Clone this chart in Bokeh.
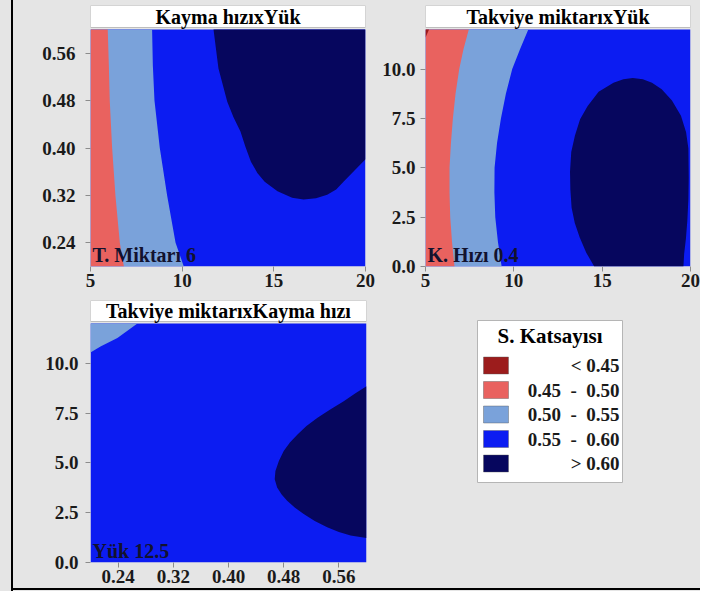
from bokeh.plotting import figure
from bokeh.layouts import row, column
from bokeh.models import Range1d, FixedTicker, PrintfTickFormatter, InlineStyleSheet
from bokeh.core.properties import value
from bokeh.embed import file_html
from bokeh.resources import INLINE

# ---------------- data ----------------
level_labels = ["<\u00a00.45", "0.45\u00a0\u00a0-\u00a0\u00a00.50", "0.50\u00a0\u00a0-\u00a0\u00a00.55",
                "0.55\u00a0\u00a0-\u00a0\u00a00.60", ">\u00a00.60"]
level_colors = ["#9c1c1c", "#e9625f", "#7aa2da", "#0c1cf2", "#06065e"]
legend_title = "S. Katsayısı"

# Panel 1: Kayma hızı (y) x Yük (x), hold T. Miktarı = 6
p1_title = "Kayma hızıxYük"
p1_hold = "T. Miktarı 6"
p1_xr = (5, 20)
p1_yr = (0.2, 0.6)
p1_xticks = [5, 10, 15, 20]
p1_yticks = [0.24, 0.32, 0.40, 0.48, 0.56]
p1_c050_x = [5.94, 6.00, 6.05, 6.18, 6.36, 6.60, 6.82]
p1_c050_y = [0.60, 0.54, 0.48, 0.40, 0.32, 0.24, 0.20]
p1_c055_x = [8.36, 8.40, 8.49, 8.78, 9.18, 9.64, 10.09]
p1_c055_y = [0.60, 0.54, 0.48, 0.40, 0.32, 0.24, 0.20]
p1_c060_x = [11.71, 11.98, 12.46, 12.80, 13.18, 13.45, 13.75, 14.10, 14.50, 15.20, 16.00, 16.62,
             17.30, 17.91, 18.40, 18.80, 19.40, 20.00]
p1_c060_y = [0.600, 0.534, 0.478, 0.452, 0.428, 0.402, 0.377, 0.358, 0.343, 0.327, 0.316, 0.313,
             0.315, 0.321, 0.330, 0.343, 0.362, 0.381]

# Panel 2: Takviye miktarı (y) x Yük (x), hold K. Hızı = 0.4
p2_title = "Takviye miktarıxYük"
p2_hold = "K. Hızı 0.4"
p2_xr = (5, 20)
p2_yr = (0, 12)
p2_xticks = [5, 10, 15, 20]
p2_yticks = [0.0, 2.5, 5.0, 7.5, 10.0]
p2_c045_x = [5.20, 5.00]
p2_c045_y = [12.0, 11.6]
p2_c050_x = [7.45, 7.15, 6.91, 6.70, 6.55, 6.44, 6.36, 6.36, 6.40, 6.50, 6.64]
p2_c050_y = [12.0, 11.0, 10.0, 8.75, 7.5, 6.25, 5.0, 3.75, 2.5, 1.25, 0.0]
p2_c055_x = [10.82, 10.35, 9.91, 9.55, 9.27, 9.05, 8.91, 8.90, 8.95, 9.10, 9.31]
p2_c055_y = [12.0, 11.0, 10.0, 8.75, 7.5, 6.25, 5.0, 3.75, 2.5, 1.25, 0.0]
p2_c060_x = [14.55, 14.10, 13.73, 13.45, 13.27, 13.20, 13.18, 13.25, 13.46, 13.75, 14.18, 14.80,
             15.64, 16.20, 16.73, 17.30, 17.82, 18.37, 18.95, 19.46, 19.75, 19.88, 19.90, 19.88,
             19.82, 19.74, 19.64, 19.60]
p2_c060_y = [0.00, 0.70, 1.47, 2.20, 2.97, 3.90, 4.80, 5.80, 6.63, 7.45, 8.13, 8.85,
             9.30, 9.48, 9.55, 9.48, 9.30, 8.97, 8.40, 7.63, 6.80, 5.97, 4.50, 3.40,
             2.30, 1.40, 0.63, 0.00]

# Panel 3: Takviye miktarı (y) x Kayma hızı (x), hold Yük = 12.5
p3_title = "Takviye miktarıxKayma hızı"
p3_hold = "Yük 12.5"
p3_xr = (0.2, 0.6)
p3_yr = (0, 12)
p3_xticks = [0.24, 0.32, 0.40, 0.48, 0.56]
p3_yticks = [0.0, 2.5, 5.0, 7.5, 10.0]
p3_c055_x = [0.200, 0.2145, 0.239, 0.268]
p3_c055_y = [10.55, 10.85, 11.27, 12.0]
p3_c060_x = [0.600, 0.584, 0.567, 0.548, 0.529, 0.513, 0.500, 0.489, 0.480, 0.473, 0.468, 0.467,
             0.4705, 0.477, 0.485, 0.496, 0.509, 0.525, 0.543, 0.560, 0.577, 0.600]
p3_c060_y = [8.85, 8.50, 8.10, 7.70, 7.27, 6.85, 6.43, 6.02, 5.60, 5.10, 4.60, 4.18,
             3.77, 3.42, 3.10, 2.76, 2.43, 2.08, 1.77, 1.53, 1.35, 1.23]

# ---------------- style ----------------
BG = "#e5e5e5"
SERIF = "Liberation Serif"
TICK_COLOR = "#8c8c8c"
TXT = "#1a1a1a"


def build_panel(width, height, left, right, top, bottom, xr, yr, title_px, gap_px):
    frame_h = height - bottom - top
    plot_h = frame_h - title_px
    span = yr[1] - yr[0]
    ytop = yr[1] + span * title_px / plot_h
    p = figure(width=width, height=height, x_range=Range1d(*xr), y_range=Range1d(yr[0], ytop),
               min_border_left=left, min_border_right=right, min_border_top=top, min_border_bottom=bottom,
               output_backend="svg", toolbar_location=None,
               background_fill_color=BG, border_fill_color=BG, outline_line_color=None)
    box_bottom = yr[1] + span * gap_px / plot_h
    return p, box_bottom, ytop


def style_axes(p, xticks, yticks, xfmt, yfmt, ystand):
    p.xaxis.ticker = FixedTicker(ticks=xticks)
    p.yaxis.ticker = FixedTicker(ticks=yticks)
    p.xaxis.formatter = PrintfTickFormatter(format=xfmt)
    p.yaxis.formatter = PrintfTickFormatter(format=yfmt)
    for ax in (p.xaxis, p.yaxis):
        ax.axis_line_color = None
        ax.major_tick_line_color = TICK_COLOR
        ax.major_tick_out = 5
        ax.major_tick_in = 0
        ax.minor_tick_line_color = None
        ax.major_label_text_font = SERIF
        ax.major_label_text_font_style = "bold"
        ax.major_label_text_font_size = "19px"
        ax.major_label_text_color = TXT
    p.xaxis.major_label_standoff = 2
    p.yaxis.major_label_standoff = ystand
    p.xgrid.visible = False
    p.ygrid.visible = False


def add_title(p, xr, box_bottom, ytop, title):
    p.quad(left=[xr[0]], right=[xr[1]], bottom=[box_bottom], top=[ytop],
           fill_color="white", line_color="#bdbdbd", line_width=1)
    p.text(x=[(xr[0] + xr[1]) / 2], y=[(box_bottom + ytop) / 2], text=[title],
           text_align="center", text_baseline="middle", text_font=value(SERIF),
           text_font_style="bold", text_font_size="20px", text_color="black")


def add_hold(p, xr, yr, label):
    p.text(x=[xr[0]], y=[yr[0]], text=[label], x_offset=2, y_offset=-1,
           text_align="left", text_baseline="bottom", text_font=value(SERIF),
           text_font_style="bold", text_font_size="20px", text_color="#12122e")


def full_rect(p, xr, yr, color):
    p.patch([xr[0], xr[1], xr[1], xr[0]], [yr[0], yr[0], yr[1], yr[1]],
            fill_color=color, line_color=None)


# ---------------- panel 1 ----------------
p1, p1_bb, p1_top = build_panel(376, 298, 90, 11, 5, 32, p1_xr, p1_yr, 24, 2)
full_rect(p1, p1_xr, p1_yr, level_colors[3])
p1.patch([p1_xr[0]] + p1_c055_x + [p1_xr[0]], [p1_yr[1]] + p1_c055_y + [p1_yr[0]],
         fill_color=level_colors[2], line_color=None)
p1.patch([p1_xr[0]] + p1_c050_x + [p1_xr[0]], [p1_yr[1]] + p1_c050_y + [p1_yr[0]],
         fill_color=level_colors[1], line_color=None)
p1.patch(p1_c060_x + [p1_xr[1]], p1_c060_y + [p1_yr[1]],
         fill_color=level_colors[4], line_color=None)
add_title(p1, p1_xr, p1_bb, p1_top, p1_title)
add_hold(p1, p1_xr, p1_yr, p1_hold)
style_axes(p1, p1_xticks, p1_yticks, "%d", "%.2f", 10)

# ---------------- panel 2 ----------------
p2, p2_bb, p2_top = build_panel(324, 298, 49, 10, 5, 32, p2_xr, p2_yr, 24, 2)
full_rect(p2, p2_xr, p2_yr, level_colors[3])
p2.patch([p2_xr[0]] + p2_c055_x + [p2_xr[0]], [p2_yr[1]] + p2_c055_y + [p2_yr[0]],
         fill_color=level_colors[2], line_color=None)
p2.patch([p2_xr[0]] + p2_c050_x + [p2_xr[0]], [p2_yr[1]] + p2_c050_y + [p2_yr[0]],
         fill_color=level_colors[1], line_color=None)
p2.patch([p2_xr[0]] + p2_c045_x, [p2_yr[1]] + p2_c045_y,
         fill_color=level_colors[0], line_color=None)
p2.patch(p2_c060_x, p2_c060_y, fill_color=level_colors[4], line_color=None)
add_title(p2, p2_xr, p2_bb, p2_top, p2_title)
add_hold(p2, p2_xr, p2_yr, p2_hold)
style_axes(p2, p2_xticks, p2_yticks, "%d", "%.1f", 5)

# ---------------- panel 3 ----------------
p3, p3_bb, p3_top = build_panel(376, 293, 90, 10, 2, 29, p3_xr, p3_yr, 23, 2)
full_rect(p3, p3_xr, p3_yr, level_colors[3])
p3.patch([p3_xr[0]] + p3_c055_x, [p3_yr[1]] + p3_c055_y,
         fill_color=level_colors[2], line_color=None)
p3.patch(p3_c060_x, p3_c060_y, fill_color=level_colors[4], line_color=None)
add_title(p3, p3_xr, p3_bb, p3_top, p3_title)
add_hold(p3, p3_xr, p3_yr, p3_hold)
style_axes(p3, p3_xticks, p3_yticks, "%.2f", "%.1f", 7)

# ---------------- legend panel (pixel-like ranges) ----------------
p4 = figure(width=324, height=293, x_range=Range1d(376, 700), y_range=Range1d(562, 300),
            min_border_left=0, min_border_right=0, min_border_top=2, min_border_bottom=29,
            x_axis_location=None, y_axis_location=None,
            output_backend="svg", toolbar_location=None,
            background_fill_color=BG, border_fill_color=BG, outline_line_color=None)
p4.xgrid.visible = False
p4.ygrid.visible = False
LEG_L, LEG_R, LEG_T, LEG_B = 477, 622, 320, 482
ROW0, ROW_STEP = 365, 24.5
p4.quad(left=[LEG_L], right=[LEG_R], top=[LEG_T], bottom=[LEG_B],
        fill_color="white", line_color="#b5b5b5", line_width=1)
p4.text(x=[(LEG_L + LEG_R) / 2], y=[LEG_T + 15], text=[legend_title],
        text_align="center", text_baseline="middle", text_font=value(SERIF),
        text_font_style="bold", text_font_size="21px", text_color="black")
centers = [ROW0 + ROW_STEP * i for i in range(len(level_labels))]
p4.quad(left=[LEG_L + 6] * len(centers), right=[LEG_L + 31] * len(centers),
        top=[c - 8.5 for c in centers], bottom=[c + 8.5 for c in centers],
        fill_color=level_colors, line_color="#555555", line_alpha=0.5, line_width=0.8)
p4.text(x=[LEG_R - 3] * len(centers), y=centers, text=level_labels,
        text_align="right", text_baseline="middle", text_font=value(SERIF),
        text_font_style="bold", text_font_size="19px", text_color=TXT)

frame_css = InlineStyleSheet(css="""
:host { background-color: #e5e5e5; position: relative; }
:host::before { content: ""; position: absolute; left: 11px; top: 0px; width: 2px; height: 100%;
                background: #000000; z-index: 100; pointer-events: none; }
:host::after { content: ""; position: absolute; left: 11px; right: 0px; bottom: 1px; height: 2px;
               background: #000000; z-index: 100; pointer-events: none; }
""")

layout = column(row(p1, p2, spacing=0), row(p3, p4, spacing=0), spacing=0,
                stylesheets=[frame_css])
open("out.html", "w").write(file_html(layout, INLINE))
